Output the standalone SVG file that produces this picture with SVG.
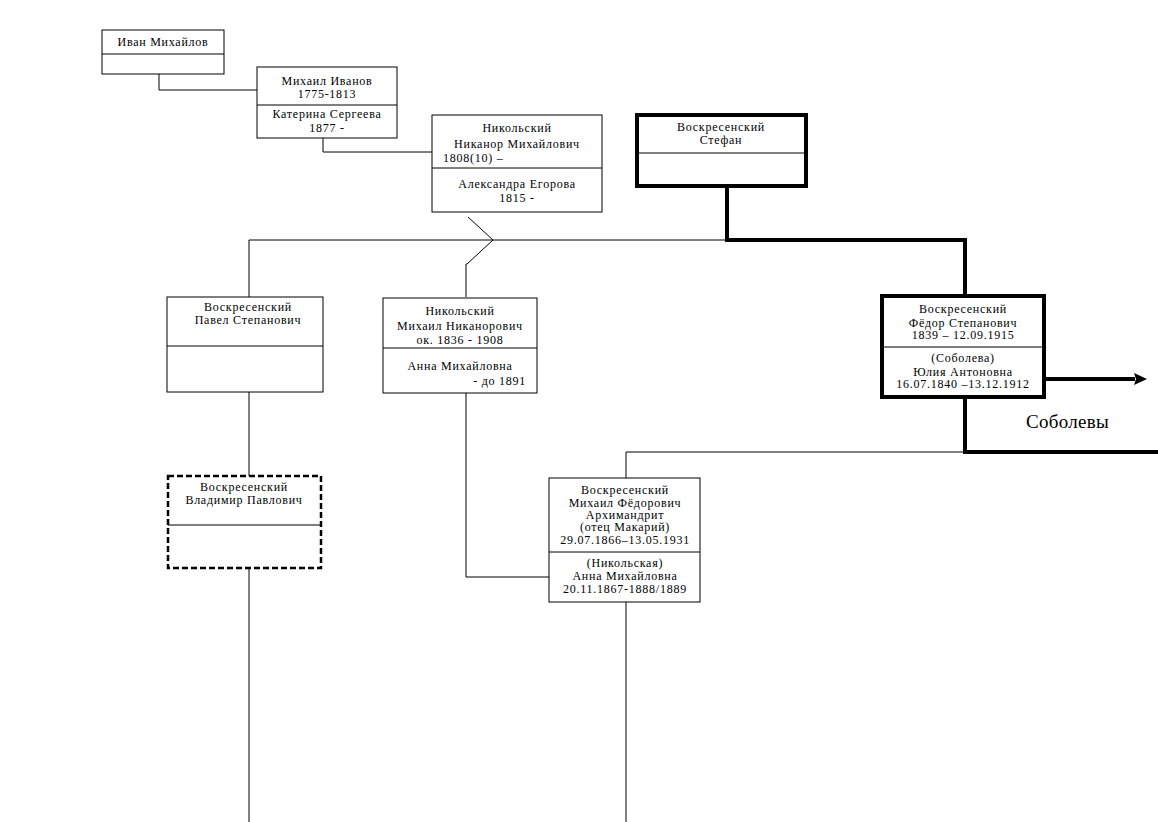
<svg xmlns="http://www.w3.org/2000/svg" width="1158" height="822" viewBox="0 0 1158 822">
<defs>
<style>
.box{fill:#fff;stroke:#000;stroke-width:1}
.thick{fill:#fff;stroke:#000;stroke-width:4}
.dash{fill:#fff;stroke:#000;stroke-width:2.5;stroke-dasharray:6 3}
.div{stroke:#000;stroke-width:1}
.ln{fill:none;stroke:#000;stroke-width:1}
.tl{fill:none;stroke:#000;stroke-width:4}
text{font-family:"Liberation Serif","Times New Roman",serif;font-size:12px;letter-spacing:0.75px;fill:#000;text-anchor:middle}
.big{font-size:19px;letter-spacing:0.3px;text-anchor:start}
</style>
<marker id="arr" markerWidth="13" markerHeight="12" refX="1" refY="6" orient="auto" markerUnits="userSpaceOnUse">
<path d="M0,0 L13,6 L0,12 L2,6 Z" fill="#000"/>
</marker>
</defs>
<rect width="1158" height="822" fill="#fff"/>
<g id="connectors">
<polyline class="ln" points="159,74 159,90 257,90"/>
<polyline class="ln" points="323,138 323,152 432,152"/>
<polyline class="ln" points="249,297 249,240 727,240"/>
<polyline class="ln" points="468,217 493,240 467,264 466,264 466,297"/>
<polyline class="tl" points="727,187 727,240 965,240 965,295"/>
<line class="ln" x1="249" y1="392" x2="249" y2="476"/>
<polyline class="ln" points="466,393 466,577 549,577"/>
<polyline class="ln" points="626,478 626,452 965,452"/>
<polyline class="tl" points="965,398 965,452 1158,452"/>
<line class="tl" x1="1045" y1="379" x2="1135" y2="379" marker-end="url(#arr)"/>
<line class="ln" x1="249" y1="569" x2="249" y2="822"/>
<line class="ln" x1="626" y1="602" x2="626" y2="822"/>
</g>
<g id="ivan">
<rect class="box" x="102" y="30" width="122" height="44"/>
<line class="div" x1="102" y1="54" x2="224" y2="54"/>
<text x="163" y="46">Иван Михайлов</text>
</g>
<g id="mikhail-ivanov">
<rect class="box" x="257" y="67" width="140" height="71"/>
<line class="div" x1="257" y1="105" x2="397" y2="105"/>
<text x="327" y="85">Михаил Иванов</text>
<text x="327" y="98">1775-1813</text>
<text x="327" y="118">Катерина Сергеева</text>
<text x="327" y="132">1877 -</text>
</g>
<g id="nikanor">
<rect class="box" x="432" y="115" width="170" height="97"/>
<line class="div" x1="432" y1="168" x2="602" y2="168"/>
<text x="517" y="132">Никольский</text>
<text x="517" y="148">Никанор Михайлович</text>
<text x="443" y="162" style="text-anchor:start">1808(10) –</text>
<text x="517" y="188">Александра Егорова</text>
<text x="517" y="202">1815 -</text>
</g>
<g id="stefan">
<rect class="thick" x="637" y="115" width="169" height="71"/>
<line class="div" x1="637" y1="153" x2="806" y2="153"/>
<text x="721" y="131">Воскресенский</text>
<text x="721" y="144">Стефан</text>
</g>
<g id="pavel">
<rect class="box" x="167" y="297" width="156" height="95"/>
<line class="div" x1="167" y1="346" x2="323" y2="346"/>
<text x="248" y="311">Воскресенский</text>
<text x="248" y="324">Павел Степанович</text>
</g>
<g id="mikhail-nikanorovich">
<rect class="box" x="383" y="298" width="154" height="95"/>
<line class="div" x1="383" y1="348" x2="537" y2="348"/>
<text x="460" y="315">Никольский</text>
<text x="460" y="330">Михаил Никанорович</text>
<text x="460" y="344">ок. 1836 - 1908</text>
<text x="460" y="370">Анна Михайловна</text>
<text x="526" y="385" style="text-anchor:end">- до 1891</text>
</g>
<g id="fedor">
<rect class="thick" x="882" y="296" width="162" height="101"/>
<line class="div" x1="882" y1="347" x2="1044" y2="347"/>
<text x="963" y="313">Воскресенский</text>
<text x="963" y="327">Фёдор Степанович</text>
<text x="963" y="339">1839 – 12.09.1915</text>
<text x="963" y="362">(Соболева)</text>
<text x="963" y="376">Юлия Антоновна</text>
<text x="963" y="388">16.07.1840 –13.12.1912</text>
</g>
<g id="sobolevy">
<text class="big" x="1026" y="428">Соболевы</text>
</g>
<g id="vladimir">
<rect class="dash" x="168" y="476" width="153" height="92"/>
<line class="div" x1="168" y1="525" x2="321" y2="525"/>
<text x="244" y="491">Воскресенский</text>
<text x="244" y="504">Владимир Павлович</text>
</g>
<g id="mikhail-fedorovich">
<rect class="box" x="549" y="478" width="151" height="124"/>
<line class="div" x1="549" y1="552" x2="700" y2="552"/>
<text x="625" y="494">Воскресенский</text>
<text x="625" y="507">Михаил Фёдорович</text>
<text x="625" y="519">Архимандрит</text>
<text x="625" y="531">(отец Макарий)</text>
<text x="625" y="544">29.07.1866–13.05.1931</text>
<text x="625" y="567">(Никольская)</text>
<text x="625" y="580">Анна Михайловна</text>
<text x="625" y="593">20.11.1867-1888/1889</text>
</g>
</svg>
